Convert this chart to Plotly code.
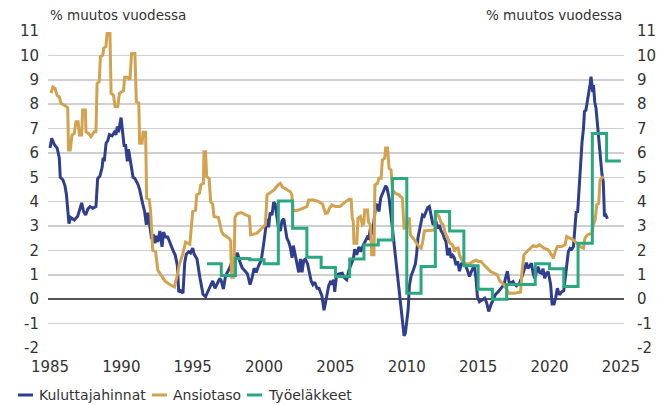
import plotly.graph_objects as go

# Kuluttajahinnat (CPI, % change y/y)
cpi_year = [1985.00,1985.12,1985.3,1985.5,1985.65,1985.72,1985.9,1986.05,1986.15,1986.24,1986.33,1986.45,1986.7,1986.94,1987.05,1987.22,1987.35,1987.5,1987.65,1987.8,1988.0,1988.22,1988.34,1988.5,1988.65,1988.72,1988.8,1988.93,1989.05,1989.16,1989.35,1989.51,1989.62,1989.72,1989.8,1989.98,1990.08,1990.19,1990.3,1990.42,1990.5,1990.65,1990.82,1990.95,1991.05,1991.17,1991.28,1991.4,1991.5,1991.63,1991.75,1991.87,1991.95,1992.1,1992.25,1992.35,1992.45,1992.55,1992.7,1992.85,1992.95,1993.1,1993.25,1993.46,1993.62,1993.78,1993.92,1994.02,1994.15,1994.32,1994.44,1994.55,1994.72,1994.85,1995.0,1995.1,1995.3,1995.5,1995.72,1995.9,1996.05,1996.26,1996.4,1996.56,1996.72,1996.9,1997.0,1997.15,1997.3,1997.45,1997.6,1997.73,1997.85,1998.0,1998.13,1998.3,1998.45,1998.6,1998.83,1999.02,1999.15,1999.3,1999.45,1999.6,1999.8,1999.98,2000.1,2000.2,2000.32,2000.42,2000.56,2000.67,2000.78,2000.91,2001.0,2001.14,2001.25,2001.38,2001.49,2001.6,2001.73,2001.85,2001.96,2002.05,2002.19,2002.3,2002.43,2002.55,2002.66,2002.78,2002.89,2003.05,2003.18,2003.3,2003.42,2003.55,2003.71,2003.85,2003.94,2004.05,2004.2,2004.3,2004.41,2004.53,2004.68,2004.78,2004.88,2004.95,2005.05,2005.13,2005.3,2005.48,2005.6,2005.79,2005.95,2006.1,2006.26,2006.35,2006.49,2006.65,2006.78,2006.96,2007.1,2007.24,2007.35,2007.47,2007.58,2007.7,2007.82,2007.94,2008.05,2008.17,2008.35,2008.52,2008.62,2008.76,2008.92,2009.06,2009.22,2009.39,2009.53,2009.69,2009.81,2009.9,2010.0,2010.1,2010.18,2010.3,2010.46,2010.6,2010.69,2010.78,2010.88,2011.0,2011.1,2011.22,2011.35,2011.46,2011.58,2011.7,2011.82,2011.93,2012.05,2012.16,2012.28,2012.4,2012.52,2012.63,2012.75,2012.86,2012.98,2013.1,2013.22,2013.33,2013.45,2013.57,2013.69,2013.8,2013.92,2014.05,2014.15,2014.27,2014.39,2014.5,2014.62,2014.73,2014.85,2014.95,2015.09,2015.22,2015.46,2015.6,2015.74,2015.88,2016.04,2016.2,2016.39,2016.58,2016.7,2016.81,2016.91,2017.05,2017.16,2017.33,2017.45,2017.56,2017.68,2017.79,2017.9,2018.03,2018.15,2018.26,2018.38,2018.49,2018.6,2018.73,2018.85,2018.96,2019.08,2019.2,2019.31,2019.43,2019.55,2019.66,2019.78,2019.9,2020.0,2020.08,2020.18,2020.32,2020.43,2020.55,2020.69,2020.86,2021.0,2021.09,2021.21,2021.32,2021.44,2021.56,2021.68,2021.79,2021.87,2021.97,2022.1,2022.19,2022.28,2022.38,2022.45,2022.55,2022.66,2022.75,2022.84,2022.91,2022.98,2023.03,2023.08,2023.17,2023.26,2023.36,2023.45,2023.52,2023.61,2023.68,2023.77,2023.85,2023.95,2024.06]
cpi_val = [6.2,6.6,6.35,6.2,5.8,5.0,4.9,4.65,4.3,3.8,3.1,3.35,3.25,3.4,3.6,3.95,3.6,3.45,3.7,3.8,3.73,3.8,4.95,5.05,5.4,5.8,5.65,6.4,6.5,6.75,6.7,6.85,6.75,7.08,6.85,7.45,6.9,6.3,6.3,5.65,6.15,5.6,5.0,4.95,4.85,4.7,4.5,4.1,3.9,3.6,3.05,3.55,3.15,2.55,2.6,2.3,2.6,2.35,2.8,2.15,2.75,2.55,2.55,2.2,2.0,1.8,1.4,0.3,0.35,0.25,1.5,1.85,1.95,1.9,2.1,1.85,1.65,0.9,0.2,0.1,0.3,0.55,0.75,0.45,0.65,0.85,0.75,0.42,0.95,1.1,1.3,1.5,1.35,1.75,1.9,1.55,1.3,1.2,1.05,0.6,0.85,1.27,1.1,1.35,1.6,2.3,3.0,3.3,2.95,3.55,3.45,3.98,3.9,3.2,2.95,2.8,3.2,3.3,2.8,2.5,2.35,2.1,1.7,2.2,1.8,1.4,1.1,1.65,1.1,1.6,1.65,1.45,1.0,0.75,0.6,0.7,0.45,0.45,0.3,0.15,-0.45,-0.1,0.15,0.55,0.75,0.6,0.8,0.3,0.85,1.0,1.05,1.07,0.9,0.8,1.2,1.4,1.68,2.05,1.82,2.15,1.95,2.23,2.4,2.55,2.5,3.0,2.65,3.2,3.8,3.9,3.6,4.15,4.4,4.65,4.55,4.15,3.3,2.5,1.8,0.85,-0.1,-0.8,-1.5,-1.4,-0.8,-0.4,0.55,0.95,1.2,1.45,1.85,2.5,2.8,3.15,3.45,3.4,3.6,3.75,3.8,3.5,3.1,3.05,3.2,2.9,3.05,2.8,2.7,2.5,2.35,1.8,2.1,1.7,1.8,1.7,1.4,1.55,1.15,1.4,1.55,1.4,1.35,1.15,0.93,1.1,1.27,1.4,0.85,0.1,-0.1,-0.05,0.04,-0.15,-0.5,-0.25,-0.05,0.18,0.3,0.45,0.55,0.6,0.85,1.15,0.72,0.66,0.72,0.6,0.55,0.6,0.65,0.85,1.13,1.27,1.5,1.27,1.35,1.48,1.07,0.86,1.1,1.34,1.1,1.07,1.25,0.86,1.05,1.13,0.85,0.6,-0.2,-0.2,0.05,0.45,0.18,0.31,0.35,0.86,1.4,1.95,2.09,2.05,2.16,3.05,3.6,3.55,4.95,5.8,6.45,7.0,7.7,7.75,8.1,8.4,8.8,9.13,8.85,8.5,8.78,8.1,7.83,7.14,6.35,5.9,5.5,5.1,4.8,3.4,3.45,3.3]

# Ansiotaso (wage index, % change y/y)
wage_year = [1985.07,1985.2,1985.35,1985.5,1985.65,1985.77,1986.0,1986.24,1986.3,1986.42,1986.54,1986.7,1986.82,1986.97,1987.06,1987.22,1987.29,1987.48,1987.52,1987.7,1987.87,1988.1,1988.22,1988.3,1988.45,1988.53,1988.7,1988.76,1988.92,1989.0,1989.2,1989.28,1989.45,1989.56,1989.75,1989.86,1990.0,1990.15,1990.23,1990.45,1990.6,1990.72,1990.95,1991.05,1991.22,1991.28,1991.45,1991.52,1991.7,1991.77,1991.95,1992.05,1992.2,1992.4,1992.55,1992.75,1993.05,1993.4,1993.72,1993.88,1994.05,1994.3,1994.5,1994.8,1995.0,1995.2,1995.28,1995.48,1995.56,1995.75,1995.79,1995.9,1995.98,1996.15,1996.26,1996.4,1996.49,1996.8,1997.03,1997.15,1997.33,1997.55,1997.66,1997.72,1997.88,1997.96,1998.1,1998.4,1998.75,1998.97,1999.06,1999.48,1999.83,2000.09,2000.21,2000.4,2000.7,2000.98,2001.14,2001.3,2001.6,2001.84,2001.95,2002.03,2002.43,2002.78,2003.0,2003.13,2003.48,2003.83,2004.1,2004.3,2004.45,2004.6,2004.76,2005.0,2005.32,2005.5,2005.72,2005.95,2006.1,2006.18,2006.25,2006.3,2006.5,2006.58,2006.75,2006.89,2006.98,2007.05,2007.25,2007.31,2007.45,2007.54,2007.7,2007.77,2007.95,2008.05,2008.2,2008.29,2008.45,2008.52,2008.65,2008.76,2008.9,2008.99,2009.22,2009.45,2009.69,2009.81,2009.98,2010.05,2010.18,2010.25,2010.45,2010.65,2010.85,2011.0,2011.1,2011.23,2011.7,2011.95,2012.05,2012.25,2012.4,2012.55,2012.7,2012.88,2013.03,2013.22,2013.35,2013.45,2013.6,2013.69,2013.8,2013.92,2014.15,2014.4,2014.62,2014.85,2015.0,2015.2,2015.41,2015.64,2015.88,2016.11,2016.35,2016.51,2016.81,2016.95,2017.14,2017.56,2017.84,2017.98,2018.07,2018.21,2018.4,2018.68,2018.85,2019.08,2019.31,2019.62,2019.85,2020.01,2020.15,2020.27,2020.4,2020.55,2020.85,2021.09,2021.21,2021.45,2021.68,2021.9,2022.14,2022.38,2022.48,2022.66,2022.96,2023.07,2023.2,2023.31,2023.45,2023.54,2023.77]
wage_val = [8.45,8.7,8.65,8.35,8.3,8.03,7.96,7.85,6.12,6.12,6.73,6.8,7.28,7.28,6.73,6.73,7.76,7.76,6.87,6.8,6.67,6.87,6.87,8.85,8.92,9.95,10.0,10.3,10.36,10.9,10.9,8.44,8.37,7.9,7.9,8.44,8.5,8.55,9.1,9.1,9.0,10.08,10.08,8.1,8.05,6.4,6.4,6.85,6.85,4.15,4.1,3.6,2.0,1.95,1.2,1.0,0.75,0.6,0.5,0.9,1.4,1.85,2.35,2.25,3.6,3.65,4.28,4.35,4.69,4.75,6.05,6.05,5.03,4.95,4.0,3.9,3.39,3.35,2.77,2.65,2.57,2.5,2.4,0.9,0.9,3.35,3.5,3.55,3.45,3.4,2.64,2.7,2.9,3.05,4.28,4.35,4.48,4.69,4.75,4.6,4.48,4.41,4.28,3.62,3.66,3.73,3.8,4.07,4.07,4.0,3.9,3.52,3.55,3.75,3.87,3.8,3.8,3.9,4.0,4.1,4.1,3.32,3.2,2.3,2.3,3.32,3.39,3.05,3.1,3.66,3.66,3.18,3.05,1.82,1.82,4.69,4.75,4.96,4.96,5.71,5.78,6.2,6.2,5.37,5.3,4.48,4.34,4.28,4.14,2.91,2.91,3.3,3.3,2.64,2.5,2.3,2.16,2.09,2.3,2.8,2.84,2.84,3.55,3.4,3.15,3.05,2.7,2.45,2.3,2.23,1.95,2.09,2.1,1.82,1.68,1.54,1.45,1.45,1.54,1.6,1.55,1.55,1.4,1.27,1.13,1.07,1.0,0.75,0.6,0.45,0.25,0.25,0.3,0.3,1.13,1.82,1.95,2.09,2.2,2.16,2.23,2.09,2.05,1.95,1.82,1.68,1.95,2.16,2.16,2.23,2.57,2.5,2.43,2.3,2.16,2.09,2.5,2.64,2.7,3.05,3.25,3.87,3.93,4.89,5.03]

# Työeläkkeet (earnings-related pension index, % change, annual)
pension_year = [1996,1997,1998,1999,2000,2001,2002,2003,2004,2005,2006,2007,2008,2009,2010,2011,2012,2013,2014,2015,2016,2017,2018,2019,2020,2021,2022,2023,2024]
pension_val = [1.45,0.97,1.67,1.62,1.45,4.03,2.91,1.72,1.3,0.93,1.65,2.22,2.43,4.95,0.25,1.34,3.6,2.8,1.37,0.41,0.0,0.6,0.6,1.45,1.25,0.52,2.3,6.8,5.67]

y_ticks = list(range(-2, 12))
y_ticktext = [str(v) for v in y_ticks]          # plain hyphen minus, as in the original
x_ticks = [1985, 1990, 1995, 2000, 2005, 2010, 2015, 2020, 2025]
axis_title = "% muutos vuodessa"
series_names = ["Kuluttajahinnat", "Ansiotaso", "Työeläkkeet"]

BLUE = "#2f3f8e"
GOLD = "#d2a24f"
GREEN = "#2aa881"
COLORS = [BLUE, GOLD, GREEN]
FONT = "DejaVu Sans"
TXT = "#333333"

W, H = 667, 405
ML, MR, MT, MB = 48, 43, 31, 57
PW, PH = W - ML - MR, H - MT - MB


def paper_x(px):
    return (px - ML) / PW


def paper_y(py):
    return (H - MB - py) / PH


fig = go.Figure()
fig.add_trace(go.Scatter(x=cpi_year, y=cpi_val, mode="lines", name=series_names[0],
                         line=dict(color=BLUE, width=3)))
fig.add_trace(go.Scatter(x=wage_year, y=wage_val, mode="lines", name=series_names[1],
                         line=dict(color=GOLD, width=3)))
step_x = pension_year + [pension_year[-1] + 1]
step_y = pension_val + [pension_val[-1]]
fig.add_trace(go.Scatter(x=step_x, y=step_y, mode="lines", name=series_names[2],
                         line=dict(color=GREEN, width=3, shape="hv")))
# invisible trace to carry the right axis
fig.add_trace(go.Scatter(x=cpi_year, y=cpi_val, yaxis="y2", mode="lines",
                         line=dict(width=0), opacity=0, showlegend=False, hoverinfo="skip"))

# legend drawn as short line samples + text (compact, like the original)
legend_x = [18, 152, 247]   # pixel start of each sample line
shapes, annotations = [], []
for name, col, lx in zip(series_names, COLORS, legend_x):
    shapes.append(dict(type="line", xref="paper", yref="paper",
                       x0=paper_x(lx), x1=paper_x(lx + 15), y0=paper_y(395), y1=paper_y(395),
                       line=dict(color=col, width=3)))
    annotations.append(dict(text=name, xref="paper", yref="paper", x=paper_x(lx + 19),
                            y=paper_y(395), xanchor="left", yanchor="middle", showarrow=False,
                            font=dict(size=14, color=TXT, family=FONT)))

annotations += [
    dict(text=axis_title, xref="paper", yref="paper", x=0, y=paper_y(15),
         xanchor="left", yanchor="middle", showarrow=False,
         font=dict(size=13.5, color=TXT, family=FONT)),
    dict(text=axis_title, xref="paper", yref="paper", x=1, y=paper_y(15),
         xanchor="right", yanchor="middle", showarrow=False,
         font=dict(size=13.5, color=TXT, family=FONT)),
]

fig.update_layout(
    width=W, height=H,
    margin=dict(l=ML, r=MR, t=MT, b=MB, autoexpand=False),
    plot_bgcolor="white", paper_bgcolor="white",
    font=dict(family=FONT, size=15, color=TXT),
    showlegend=False,
    hovermode=False,
    xaxis=dict(range=[1984.86, 2025.22], tickvals=x_ticks, showgrid=False, zeroline=False,
               showline=False, ticks="", tickfont=dict(size=15, color=TXT),
               ticklabelstandoff=8, automargin=False),
    yaxis=dict(range=[-2, 11], tickvals=y_ticks, ticktext=y_ticktext, showgrid=True,
               gridcolor="#cfcfcf", gridwidth=1.5,
               zeroline=True, zerolinecolor="#555555", zerolinewidth=1.5, showline=False,
               ticks="", tickfont=dict(size=15, color=TXT), ticklabelstandoff=8,
               automargin=False),
    yaxis2=dict(range=[-2, 11], tickvals=y_ticks, ticktext=y_ticktext, overlaying="y",
                side="right", showgrid=False, zeroline=False, showline=False, ticks="",
                tickfont=dict(size=15, color=TXT), ticklabelstandoff=12, automargin=False),
    shapes=shapes,
    annotations=annotations,
)

fig.write_html("out.html", config={"displayModeBar": False, "staticPlot": True},
               post_script="document.body.style.margin='0';document.body.style.overflow='hidden';")
